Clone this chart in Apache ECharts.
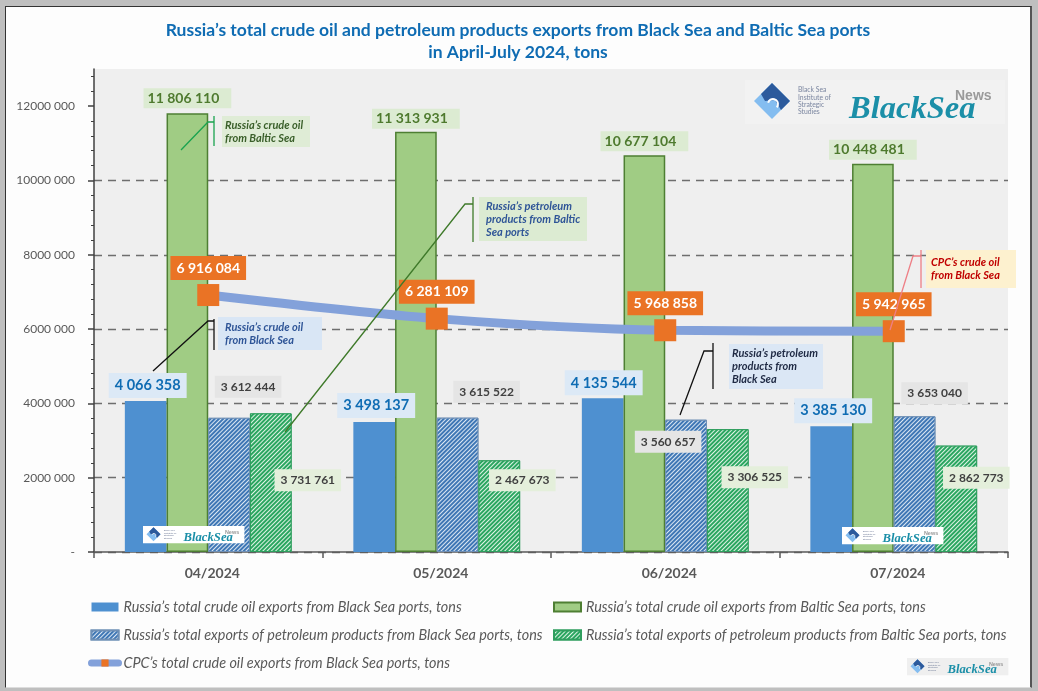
<!DOCTYPE html>
<html>
<head>
<meta charset="utf-8">
<title>Russia's oil exports</title>
<script src="https://cdn.jsdelivr.net/npm/echarts@6/dist/echarts.min.js"></script>
<style>
  html, body { margin: 0; padding: 0; background: #bfbfbf; }
  #frame { position: absolute; left: 5px; top: 6px; width: 1024px; height: 680px; background: #fdfdfd; border: 1px solid #333; border-right: 2px solid #555; border-bottom: 1px solid #ddd; }
  #main { position: absolute; left: 0; top: 0; width: 1038px; height: 691px; }
</style>
</head>
<body>
<div id="frame"></div>
<div id="main"></div>
<script>
var categories = ['04/2024', '05/2024', '06/2024', '07/2024'];
var crudeBlack = [4066358, 3498137, 4135544, 3385130];
var crudeBaltic = [11806110, 11313931, 10677104, 10448481];
var productsBlack = [3612444, 3615522, 3560657, 3653040];
var productsBaltic = [3731761, 2467673, 3306525, 2862773];
var cpcBlack = [6916084, 6281109, 5968858, 5942965];
var yTicks = [0, 2000000, 4000000, 6000000, 8000000, 10000000, 12000000];

var names = [
  'Russia\u2019s total crude oil exports from Black Sea ports, tons',
  'Russia\u2019s total crude oil exports from Baltic Sea ports, tons',
  'Russia\u2019s total exports of petroleum products from Black Sea ports, tons',
  'Russia\u2019s total exports of petroleum products from Baltic Sea ports, tons',
  'CPC\u2019s total crude oil exports from Black Sea ports, tons'
];

// label shifts, per series and month
var crudeBlackShift = [[2, -3], [2, -4], [1, -3], [2, -3]];
var crudeBalticShift = [[0, -5], [0, -3], [0, -4], [0, -4]];
var productsBlackShift = [[19, -20], [29, -15], [-18, 33], [20, -12]];
var productsBalticShift = [[37, 78], [23, 31], [27, 59], [20, 43]];

var FONT = 'Lato';

function spaced(v) {
  return String(v).replace(/\B(?=(\d{3})+$)/g, ' ');
}

function points(values, shifts, labelStyle) {
  return values.map(function (v, i) {
    return { value: v, label: Object.assign({ offset: shifts[i] }, labelStyle) };
  });
}

function barLabel(color, bg, size, pad) {
  return {
    show: true, position: 'top', distance: 0,
    formatter: function (p) { return spaced(p.value); },
    color: color, backgroundColor: bg, fontFamily: FONT, fontWeight: 'bold',
    fontSize: size, padding: pad
  };
}

function hatch(color, bg) {
  return { symbol: 'rect', color: color, backgroundColor: bg, dashArrayX: [1, 0], dashArrayY: [2, 1], rotation: -Math.PI / 4, symbolSize: 1 };
}

// note boxes with their leader lines
function note(x, y, w, h, textX, bg, color, text, path, lineColor) {
  return [
    { type: 'rect', z: 20, shape: { x: x, y: y, width: w, height: h }, style: { fill: bg } },
    { type: 'text', z: 21, x: textX, y: y + h / 2, style: { text: text, fill: color, font: 'italic bold 11px ' + FONT, lineHeight: 13, verticalAlign: 'middle' } },
    { type: 'polyline', z: 21, shape: { points: path[0] }, style: { stroke: lineColor, lineWidth: 1.3, fill: null } },
    { type: 'line', z: 21, shape: { x1: path[1][0], y1: path[1][1], x2: path[1][0], y2: path[1][2] }, style: { stroke: lineColor, lineWidth: 1.3 } }
  ];
}

function logo(x, y, k, bg) {
  return {
    type: 'group', x: x, y: y, scaleX: k, scaleY: k,
    children: [
      { type: 'rect', z: 18, shape: { x: 0, y: 0, width: 260, height: 44 }, style: { fill: bg } },
      { type: 'polygon', z: 19, shape: { points: [[27, 3], [45, 21], [27, 39], [9, 21]] }, style: { fill: '#84bdf0' } },
      { type: 'polygon', z: 19, shape: { points: [[27, 3], [45, 21], [36, 30], [30, 20], [20, 21], [16, 14]] }, style: { fill: '#2c5a9c' } },
      { type: 'arc', z: 19, shape: { cx: 28, cy: 24, r: 5, startAngle: 3.4, endAngle: 7 }, style: { stroke: '#fff', lineWidth: 2, fill: null } },
      { type: 'text', z: 19, x: 53, y: 21, style: { text: 'Black Sea\nInstitute of\nStrategic\nStudies', fill: '#7b86a0', font: '6.8px ' + FONT, lineHeight: 7.3, verticalAlign: 'middle' } },
      { type: 'text', z: 19, x: 104, y: 30, style: { text: 'BlackSea', fill: '#1b8fa8', font: 'italic bold 32.5px "Liberation Serif"', verticalAlign: 'middle' } },
      { type: 'text', z: 19, x: 210, y: 16, style: { text: 'News', fill: '#9a9a9a', font: 'bold 14px "Liberation Sans"', verticalAlign: 'middle' } }
    ]
  };
}

var graphics = []
  .concat(note(222, 116, 88, 31, 225, '#dfecd6', '#3a5f2a', 'Russia\u2019s crude oil\nfrom Baltic Sea', [[[181, 150], [208, 122], [214, 122]], [214, 116, 146]], '#1aa34f'))
  .concat(note(479, 197, 108, 44, 486, '#dcebd2', '#2f5597', 'Russia\u2019s petroleum\nproducts from Baltic\nSea ports', [[[285, 432], [465, 204], [473, 204]], [473, 197, 242]], '#3f7a2a'))
  .concat(note(218, 317, 104, 33, 225, '#d9e6f5', '#2f5597', 'Russia\u2019s crude oil\nfrom Black Sea', [[[153, 371], [208, 321], [214, 321]], [214, 319, 350]], '#111'))
  .concat(note(729, 344, 94, 45, 732, '#dbe7f5', '#1f2a44', 'Russia\u2019s petroleum\nproducts from\nBlack Sea', [[[680, 415], [704, 351], [713, 351]], [713, 343, 389]], '#111'))
  .concat(note(926, 250, 90, 38, 931, '#fdf1cf', '#c00000', 'CPC\u2019s crude oil\nfrom Black Sea', [[[890, 330], [913, 256], [921, 256]], [921, 250, 288]], '#ee7f86'))
  .concat([
    logo(745, 80, 1, '#f2f2f2'),
    logo(143, 526, 0.39, '#ffffff'),
    logo(842, 527, 0.39, '#ffffff'),
    logo(907, 658, 0.39, '#efefef')
  ]);

var myChart = echarts.init(document.getElementById('main'));

var legendText = { fontFamily: FONT, fontStyle: 'italic', fontSize: 14.4, color: '#595959' };

var option = {
  backgroundColor: 'transparent',
  animation: false,
  textStyle: { fontFamily: FONT },
  title: {
    text: 'Russia\u2019s total crude oil and petroleum products exports from Black Sea and Baltic Sea ports\nin April-July 2024, tons',
    left: 513, top: 14, textAlign: 'center',
    textStyle: { fontFamily: FONT, fontSize: 17.5, fontWeight: 'bold', color: '#0f6cb3', lineHeight: 22 }
  },
  legend: [
    {
      left: 88, top: 600, padding: 0, orient: 'vertical', itemWidth: 27, itemHeight: 9, itemGap: 14, selectedMode: false,
      lineStyle: { width: 7, cap: 'round' },
      data: [{ name: names[0], icon: 'rect' }, { name: names[2], icon: 'rect' }, { name: names[4] }],
      textStyle: legendText
    },
    {
      left: 553, top: 600, padding: 0, orient: 'vertical', itemWidth: 27, itemHeight: 9, itemGap: 14, selectedMode: false,
      data: [{ name: names[1], icon: 'rect' }, { name: names[3], icon: 'rect' }],
      textStyle: legendText
    }
  ],
  grid: { left: 94, top: 69, width: 914, height: 483, show: true, backgroundColor: '#efefef', borderWidth: 0 },
  xAxis: {
    type: 'category',
    data: categories,
    axisLine: { lineStyle: { color: '#595959', width: 1.5 } },
    axisTick: { show: true, alignWithLabel: false, length: 6, lineStyle: { color: '#595959', width: 1.5 } },
    axisLabel: { color: '#595959', fontFamily: FONT, fontWeight: 'bold', fontSize: 14, margin: 14, padding: [0, 0, 0, 8] }
  },
  yAxis: {
    type: 'value', min: 0, max: 13000000, interval: 2000000,
    axisLine: { show: true, lineStyle: { color: '#404040', width: 1.5 } },
    axisTick: { show: true, length: 6, customValues: yTicks, lineStyle: { color: '#404040', width: 1.5 } },
    minorTick: { show: true, splitNumber: 5, length: 3, lineStyle: { color: '#404040', width: 1 } },
    axisLabel: {
      color: '#595959', fontFamily: FONT, fontSize: 12, margin: 19, customValues: yTicks,
      formatter: function (v) {
        if (v === 0) return '-';
        return Math.floor(v / 1000) + ' ' + String(v % 1000 + 1000).slice(1);
      }
    },
    splitLine: { showMaxLine: false, lineStyle: { color: '#6e6e6e', type: [8, 6], width: 1.4 } }
  },
  series: [
    {
      name: names[0], type: 'bar', barGap: 0, barCategoryGap: '27%',
      itemStyle: { color: '#4e90d0' },
      data: points(crudeBlack, crudeBlackShift, barLabel('#0f6cb3', '#dce9f6', 14.5, [5, 6]))
    },
    {
      name: names[1], type: 'bar', barGap: 0, barCategoryGap: '27%',
      itemStyle: { color: '#a0cc84', borderColor: '#4e7f33', borderWidth: 1.5 },
      data: points(crudeBaltic, crudeBalticShift, barLabel('#4e7a2e', '#dcebd2', 14, [3, 12, 3, 4]))
    },
    {
      name: names[2], type: 'bar', barGap: 0, barCategoryGap: '27%',
      itemStyle: { color: '#ffffff', borderColor: '#6f8fb5', borderWidth: 1, decal: hatch('#3f77b5', '#dbe7f3') },
      data: points(productsBlack, productsBlackShift, barLabel('#404040', '#e5e5e5', 12, [5, 6]))
    },
    {
      name: names[3], type: 'bar', barGap: 0, barCategoryGap: '27%',
      itemStyle: { color: '#ffffff', borderColor: '#2f9e5e', borderWidth: 1, decal: hatch('#2aa660', '#dff3e5') },
      data: points(productsBaltic, productsBalticShift, barLabel('#404040', '#e4efdb', 12, [5, 6]))
    },
    {
      name: names[4], type: 'line', smooth: 0.3, z: 10,
      symbol: 'rect', symbolSize: 22,
      lineStyle: { color: '#83a1da', width: 9 },
      itemStyle: { color: '#ea7325' },
      label: {
        show: true, position: 'top', distance: 4,
        formatter: function (p) { return spaced(p.value); },
        color: '#fff', backgroundColor: '#ea7325', fontFamily: FONT, fontWeight: 'bold', fontSize: 14, padding: [5, 6]
      },
      data: cpcBlack
    }
  ],
  graphic: graphics
};

myChart.setOption(option);
</script>
</body>
</html>
